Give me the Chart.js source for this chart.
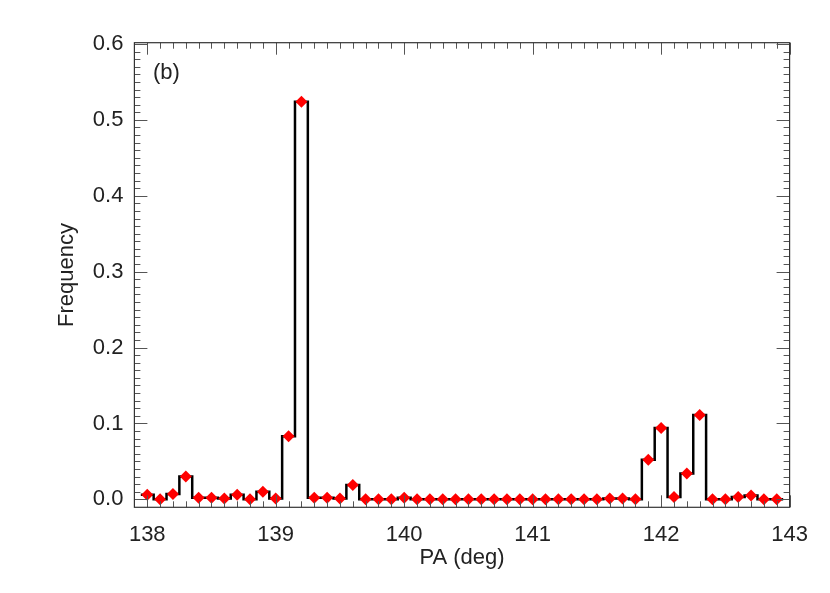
<!DOCTYPE html>
<html>
<head>
<meta charset="utf-8">
<script src="https://cdn.jsdelivr.net/npm/chart.js@4/dist/chart.umd.min.js"></script>
<style>
  html, body { margin: 0; padding: 0; background: #fff; }
  #wrap { width: 830px; height: 593px; }
</style>
</head>
<body>
<div id="wrap"><canvas id="pa_chart"></canvas></div>
<script>
// PA bins (deg), one every 0.1
const pa = [138.0, 138.1, 138.2, 138.3, 138.4, 138.5, 138.6, 138.7, 138.8, 138.9,
            139.0, 139.1, 139.2, 139.3, 139.4, 139.5, 139.6, 139.7, 139.8, 139.9,
            140.0, 140.1, 140.2, 140.3, 140.4, 140.5, 140.6, 140.7, 140.8, 140.9,
            141.0, 141.1, 141.2, 141.3, 141.4, 141.5, 141.6, 141.7, 141.8, 141.9,
            142.0, 142.1, 142.2, 142.3, 142.4, 142.5, 142.6, 142.7, 142.8, 142.9];
const freq = [0.006, 0.000, 0.007, 0.030, 0.002, 0.002, 0.001, 0.006, 0.000, 0.010,
              0.001, 0.083, 0.524, 0.002, 0.002, 0.001, 0.019, 0.000, 0.000, 0.000,
              0.002, 0.000, 0.000, 0.000, 0.000, 0.000, 0.000, 0.000, 0.000, 0.000,
              0.000, 0.000, 0.000, 0.000, 0.000, 0.000, 0.001, 0.001, 0.000, 0.052,
              0.094, 0.003, 0.034, 0.111, 0.000, 0.000, 0.003, 0.005, 0.000, 0.000];
const xTicks = [138, 139, 140, 141, 142, 143];
const yTicks = [0.0, 0.1, 0.2, 0.3, 0.4, 0.5, 0.6];
const binWidth = 0.1;

const points = pa.map((x, i) => ({ x: x, y: freq[i] }));
// histogram outline, half a bin wider on each end
const stepLine = [{ x: pa[0] - binWidth / 2, y: freq[0] }]
  .concat(points)
  .concat([{ x: pa[pa.length - 1] + binWidth / 2, y: freq[freq.length - 1] }]);

const font = { family: "'Liberation Sans', Arial, sans-serif", size: 22 };

// box + inward ticks on all four sides, plus the panel tag
const frame = {
  id: 'frame',
  afterDraw(chart) {
    const ctx = chart.ctx;
    const a = chart.chartArea;
    const xs = chart.scales.x, ys = chart.scales.y;
    ctx.save();
    ctx.strokeStyle = '#555';
    ctx.lineWidth = 1;
    ctx.beginPath();
    for (let k = 1379; k <= 1430; k++) {
      const v = k / 10;
      const px = Math.round(xs.getPixelForValue(v)) + 0.5;
      const len = (k % 10 === 0) ? 12 : 6;
      ctx.moveTo(px, a.bottom); ctx.lineTo(px, a.bottom - len);
      ctx.moveTo(px, a.top); ctx.lineTo(px, a.top + len);
    }
    for (let k = 0; k <= 60; k++) {
      const v = k / 100;
      const py = Math.round(ys.getPixelForValue(v)) + 0.5;
      const len = (k % 10 === 0) ? 13 : 6;
      ctx.moveTo(a.left, py); ctx.lineTo(a.left + len, py);
      ctx.moveTo(a.right, py); ctx.lineTo(a.right - len, py);
    }
    ctx.stroke();
    ctx.strokeStyle = '#333';
    ctx.lineWidth = 1.2;
    ctx.strokeRect(a.left, a.top, a.right - a.left, a.bottom - a.top);
    ctx.fillStyle = '#222';
    ctx.font = "22px 'Liberation Sans', Arial, sans-serif";
    ctx.textBaseline = 'middle';
    ctx.textAlign = 'left';
    ctx.fillText('(b)', 153, 73);
    ctx.restore();
  }
};

new Chart(document.getElementById('pa_chart'), {
  type: 'line',
  data: {
    datasets: [{
      label: 'points',
      data: points,
      showLine: false,
      pointStyle: 'rectRot',
      pointRadius: 6,
      pointBorderWidth: 0,
      pointBackgroundColor: '#ff0000',
      pointBorderColor: '#ff0000'
    },
    {
      label: 'histogram',
      data: stepLine,
      stepped: 'middle',
      borderColor: '#000',
      borderWidth: 2.5,
      backgroundColor: 'transparent',
      pointRadius: 0,
      fill: false
    }]
  },
  options: {
    responsive: true,
    maintainAspectRatio: false,
    animation: false,
    layout: { padding: { left: 0, top: 42.7, right: 40.4, bottom: 0 } },
    plugins: { legend: { display: false }, tooltip: { enabled: false } },
    scales: {
      x: {
        type: 'linear',
        min: 137.9,
        max: 143.0,
        afterBuildTicks: s => { s.ticks = xTicks.map(v => ({ value: v })); },
        afterFit: s => { s.height = 593 - 507.3; },
        grid: { display: false },
        border: { display: false },
        ticks: { color: '#222', font: font, padding: 6, maxRotation: 0,
                 callback: v => String(v) },
        title: { display: true, text: 'PA (deg)', color: '#222', font: font,
                 padding: { top: 0, bottom: 22 } }
      },
      y: {
        type: 'linear',
        min: -0.0105,
        max: 0.6017,
        afterBuildTicks: s => { s.ticks = yTicks.map(v => ({ value: v })); },
        afterFit: s => { s.width = 134.4; },
        grid: { display: false },
        border: { display: false },
        ticks: { color: '#222', font: font, padding: 3,
                 callback: v => v.toFixed(1) },
        title: { display: true, text: 'Frequency', color: '#222', font: font,
                 padding: { top: 54, bottom: 0 } }
      }
    }
  },
  plugins: [frame]
});
</script>
</body>
</html>
